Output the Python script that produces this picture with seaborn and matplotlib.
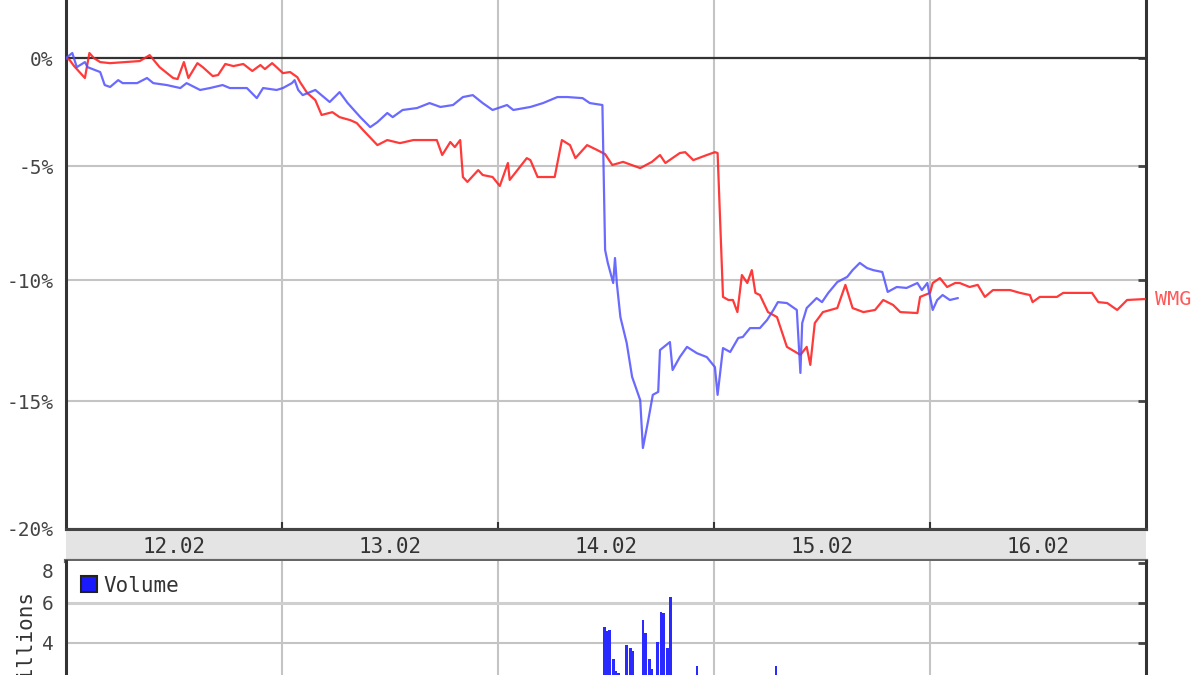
"""WMG vs. index: five-day percent change with volume panel."""

import matplotlib
matplotlib.use("Agg")
import matplotlib.pyplot as plt
import matplotlib.transforms as mtransforms
from matplotlib.patches import Patch
from matplotlib.ticker import FixedLocator, NullLocator
import numpy as np
import pandas as pd
import seaborn as sns

# hours since 12.02 00:00, percent change
red_hours = [0, 0.4, 0.9, 1.6, 2.1, 2.6, 3.1, 3.8, 4.9, 6.6, 8.2, 9.3, 10.4, 11.9, 12.4,
             13.1, 13.6, 14.6, 15.2, 16.3, 16.9, 17.7, 18.6, 19.7, 20.7, 21.6, 22.1, 22.9,
             23.4, 24.1, 24.9, 25.7, 26.0, 26.8, 27.7, 28.4, 29.6, 30.4, 31.6, 32.3, 33.0,
             34.6, 35.7, 37.1, 38.6, 41.2, 41.8, 42.7, 43.2, 43.8, 44.1, 44.6, 45.8, 46.3,
             47.4, 48.2, 49.1, 49.3, 51.2, 51.6, 52.4, 54.3, 55.1, 56.0, 56.6, 57.9, 59.0,
             59.9, 60.7, 61.9, 63.8, 65.1, 66.0, 66.6, 68.2, 68.8, 69.7, 71.2, 72.1, 72.4,
             73.0, 73.6, 74.1, 74.6, 75.1, 75.7, 76.2, 76.6, 77.1, 78.0, 79.0, 80.1, 81.6,
             82.3, 82.7, 83.2, 84.1, 85.7, 86.6, 87.4, 88.6, 89.9, 90.8, 91.9, 92.7, 94.6,
             94.9, 96.0, 96.3, 97.1, 97.9, 98.8, 99.3, 100.4, 101.3, 102.1, 103.0, 104.9,
             106.0, 107.1, 107.4, 108.2, 110.1, 110.8, 112.7, 114.0, 114.7, 115.7, 116.8,
             117.9, 119.9]
red_pct = [0, -0.09, -0.38, -0.71, -0.94, 0.24, 0, -0.19, -0.24, -0.19, -0.14, 0.14, -0.43,
           -0.94, -0.99, -0.19, -0.94, -0.24, -0.43, -0.85, -0.80, -0.28, -0.38, -0.28, -0.61,
           -0.33, -0.52, -0.24, -0.43, -0.71, -0.66, -0.90, -1.13, -1.64, -1.97, -2.66, -2.53,
           -2.76, -2.90, -3.03, -3.35, -4.04, -3.81, -3.95, -3.81, -3.81, -4.49, -3.90, -4.13,
           -3.81, -5.48, -5.70, -5.17, -5.39, -5.48, -5.88, -4.85, -5.61, -4.63, -4.72, -5.48,
           -5.48, -3.81, -4.04, -4.63, -4.04, -4.26, -4.45, -4.94, -4.80, -5.08, -4.80, -4.49,
           -4.85, -4.40, -4.36, -4.72, -4.49, -4.36, -4.40, -10.70, -10.83, -10.83, -11.34,
           -9.77, -10.11, -9.56, -10.53, -10.62, -11.34, -11.55, -12.79, -13.12, -12.79,
           -13.53, -11.80, -11.34, -11.17, -10.19, -11.17, -11.34, -11.25, -10.83, -11.04,
           -11.34, -11.38, -10.70, -10.53, -10.11, -9.90, -10.28, -10.11, -10.11, -10.28,
           -10.19, -10.70, -10.41, -10.41, -10.53, -10.62, -10.92, -10.70, -10.70, -10.53,
           -10.53, -10.53, -10.92, -10.96, -11.25, -10.83, -10.79]

blue_hours = [0, 0.7, 1.2, 2.1, 2.4, 3.8, 4.3, 4.9, 5.8, 6.3, 7.9, 9.0, 9.7, 11.2, 12.7,
              13.4, 14.9, 16.0, 17.4, 18.2, 20.1, 21.2, 21.9, 23.4, 24.1, 25.1, 25.4, 25.8,
              26.3, 27.7, 29.3, 30.4, 31.3, 32.7, 33.8, 34.6, 35.7, 36.3, 37.4, 39.0, 40.4,
              41.6, 43.0, 44.1, 45.2, 46.3, 47.4, 49.0, 49.7, 51.6, 53.0, 54.6, 55.7, 57.4,
              58.2, 59.6, 59.9, 60.2, 60.8, 61.0, 61.2, 61.6, 62.3, 62.9, 63.8, 64.1, 64.7,
              65.2, 65.8, 66.0, 67.1, 67.4, 68.2, 69.0, 70.1, 71.2, 72.1, 72.4, 73.0, 73.8,
              74.7, 75.2, 76.0, 77.1, 77.9, 78.6, 79.1, 80.1, 81.2, 81.6, 81.8, 82.3, 83.4,
              84.0, 84.7, 85.7, 86.8, 87.4, 88.2, 89.0, 89.7, 90.7, 91.3, 92.3, 93.4, 94.6,
              95.1, 95.7, 96.3, 96.8, 97.4, 98.2, 99.1]
blue_pct = [0, 0.24, -0.43, -0.19, -0.43, -0.66, -1.27, -1.36, -1.04, -1.18, -1.18, -0.94,
            -1.18, -1.27, -1.41, -1.18, -1.50, -1.41, -1.27, -1.41, -1.41, -1.88, -1.41, -1.50,
            -1.41, -1.18, -1.04, -1.50, -1.74, -1.50, -2.06, -1.60, -2.11, -2.76, -3.22, -2.99,
            -2.57, -2.76, -2.43, -2.34, -2.11, -2.29, -2.20, -1.83, -1.74, -2.11, -2.43, -2.20,
            -2.43, -2.29, -2.11, -1.83, -1.83, -1.88, -2.11, -2.20, -8.69, -9.25, -10.11, -9.04,
            -10.11, -11.55, -12.63, -14.02, -14.96, -16.87, -15.76, -14.75, -14.63, -12.92,
            -12.59, -13.74, -13.21, -12.79, -13.05, -13.21, -13.62, -14.75, -12.84, -13.00,
            -12.42, -12.38, -12.01, -12.01, -11.67, -11.25, -10.92, -10.96, -11.25, -13.86,
            -11.80, -11.17, -10.75, -10.92, -10.53, -10.07, -9.85, -9.56, -9.25, -9.47, -9.56,
            -9.64, -10.49, -10.28, -10.32, -10.11, -10.41, -10.11, -11.25, -10.83, -10.62,
            -10.83, -10.75]

vol_hours = [59.8, 60.1, 60.4, 60.8, 61.1, 61.4, 62.3, 62.7, 63.0, 64.1, 64.4, 64.8, 65.1,
             65.7, 66.1, 66.4, 66.8, 67.2, 70.1, 78.9]
vol_millions = [4.8, 4.6, 4.65, 3.2, 2.6, 2.5, 3.9, 3.75, 3.6, 5.15, 4.5, 3.2, 2.7, 4.05,
                5.55, 5.5, 3.75, 6.3, 2.85, 2.85]

day_labels = ["12.02", "13.02", "14.02", "15.02", "16.02"]
pct_ticks = [0, -5, -10, -15, -20]
vol_ticks = [4, 6, 8]


def _main():
    sns.set_style("white")
    plt.rcParams["font.family"] = ["DejaVu Sans Mono", "DejaVu Sans"]

    fig = plt.figure(figsize=(12, 6.75), dpi=100)
    left, width = 66 / 1200, 1080 / 1200
    ax = fig.add_axes([left, 1 - 529 / 675, width, 529 / 675])
    band = fig.add_axes([left, 1 - 561 / 675, width, 32 / 675])
    vax = fig.add_axes([left, 1 - 561 / 675 - 162 / 675, width, 162 / 675])

    day_edges = [24, 48, 72, 96]
    grid_kw = dict(color="#c4c4c4", lw=1.5, zorder=0)

    # price panel (log scale of the price ratio)
    red = pd.DataFrame({"h": red_hours, "r": 1 + np.array(red_pct) / 100})
    blue = pd.DataFrame({"h": blue_hours, "r": 1 + np.array(blue_pct) / 100})
    ax.set_yscale("log")
    for e in day_edges:
        ax.axvline(e, **grid_kw)
    for t in pct_ticks[1:]:
        ax.axhline(1 + t / 100, **grid_kw)
    ax.axhline(1.0, color="#333333", lw=1.6, zorder=1)
    sns.lineplot(data=red, x="h", y="r", ax=ax, color="#ff2424", lw=1.6,
                 alpha=0.9, estimator=None, zorder=3)
    sns.lineplot(data=blue, x="h", y="r", ax=ax, color="#5050ff", lw=1.6,
                 alpha=0.85, estimator=None, zorder=4)
    ax.set_xlim(0, 120)
    ax.set_ylim(0.80, 1.0279)
    ax.yaxis.set_major_locator(FixedLocator([1 + t / 100 for t in pct_ticks]))
    ax.yaxis.set_minor_locator(NullLocator())
    ax.set_yticklabels([f"{t}%" for t in pct_ticks])
    ax.set_xticks(day_edges)
    ax.set_xticklabels([])
    ax.tick_params(axis="y", direction="in", length=6, width=2, color="#444444",
                   right=True, pad=9, labelsize=14, labelcolor="#444444")
    ax.tick_params(axis="x", direction="in", length=6, width=1.5, color="#333333")
    ax.set_xlabel("")
    ax.set_ylabel("")
    for side in ("left", "right", "bottom"):
        ax.spines[side].set_color("#333333")
        ax.spines[side].set_linewidth(2.2)
    ax.spines["top"].set_visible(False)
    trans = mtransforms.blended_transform_factory(ax.transAxes, ax.transData)
    ax.text(1.008, red["r"].iloc[-1], "WMG", transform=trans, color="#ff5a5a",
            fontsize=14.5, va="center", ha="left")

    # date band
    band.set_facecolor("#e4e4e4")
    band.set_xlim(0, 120)
    band.set_ylim(0, 1)
    for i, lab in enumerate(day_labels):
        band.text(12 + 24 * i, 0.45, lab, ha="center", va="center", fontsize=15,
                  color="#333333")
    band.set_xticks(day_edges)
    band.set_xticklabels([])
    band.set_yticks([])
    band.tick_params(axis="x", direction="out", length=5, width=1.5, color="#333333",
                     top=True, bottom=True)
    for side in ("left", "right"):
        band.spines[side].set_visible(False)
    band.spines["top"].set_color("#444444")
    band.spines["top"].set_linewidth(2.2)
    band.spines["bottom"].set_color("#666666")
    band.spines["bottom"].set_linewidth(3)

    # volume panel (its lower part lies below the picture, as in the source)
    for e in day_edges:
        vax.axvline(e, **grid_kw)
    for t in vol_ticks[:-1]:
        vax.axhline(t, color="#cfcfcf" if t == 6 else "#c4c4c4",
                    lw=2.2 if t == 6 else 1.5, zorder=0)
    vax.bar(vol_hours, vol_millions, width=0.3, color="#2a2aff", lw=0, zorder=2)
    vax.set_xlim(0, 120)
    vax.set_ylim(0, 8.1)
    vax.set_yticks(vol_ticks)
    vax.set_xticks(day_edges)
    vax.set_xticklabels([])
    vax.tick_params(axis="y", direction="in", length=6, width=2, color="#444444",
                    right=True, pad=9, labelsize=14, labelcolor="#444444")
    vax.tick_params(axis="x", length=0)
    # the top label is kept inside the panel, as in the source chart
    vax.get_yticklabels()[-1].set_verticalalignment("top")
    vax.set_ylabel("Millions", fontsize=15, color="#333333", labelpad=4)
    for side in ("left", "right"):
        vax.spines[side].set_color("#333333")
        vax.spines[side].set_linewidth(2.2)
    vax.spines["top"].set_visible(False)
    vax.spines["bottom"].set_visible(False)
    vax.legend(handles=[Patch(facecolor="#1a1aff", edgecolor="#222222", lw=1.5,
                              label="Volume")],
               loc="upper left", frameon=False, fontsize=15, handlelength=0.8,
               handleheight=0.8, handletextpad=0.3, borderaxespad=0.3,
               labelcolor="#333333")

    fig.savefig("out.png", dpi=100)
    plt.close(fig)


if __name__ == "__main__":
    _main()
